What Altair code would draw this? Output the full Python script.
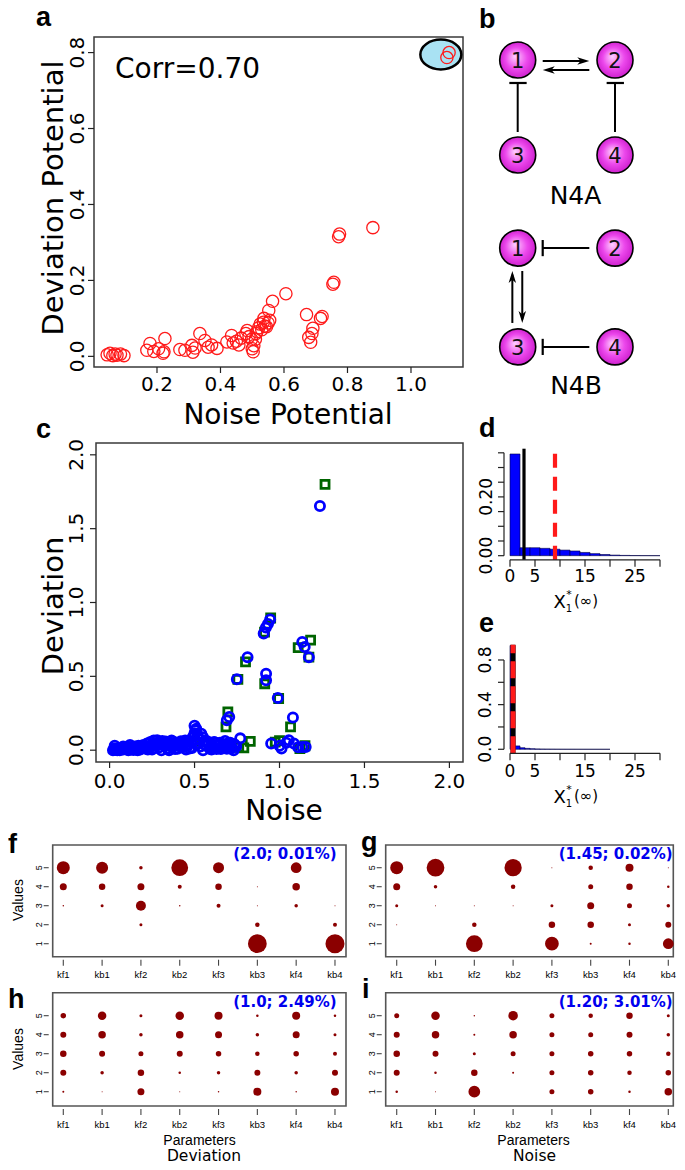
import altair as alt
import pandas as pd

# ======================= DATA =======================
# (a) Noise potential vs deviation potential
a_noise = [0.043, 0.052, 0.061, 0.068, 0.074, 0.085, 0.096,
           0.168, 0.178, 0.19, 0.205, 0.219, 0.222, 0.225,
           0.272, 0.288, 0.31, 0.313, 0.32, 0.335, 0.351, 0.361, 0.372, 0.389,
           0.42, 0.435, 0.44, 0.45, 0.458, 0.465, 0.48, 0.484, 0.49, 0.498,
           0.5, 0.503, 0.505, 0.51, 0.512, 0.515, 0.52, 0.525, 0.53, 0.535,
           0.54, 0.545, 0.55, 0.555, 0.537, 0.552, 0.564, 0.606,
           0.671, 0.678, 0.688, 0.691, 0.684, 0.715, 0.72, 0.754, 0.757,
           0.772, 0.775, 0.88, 1.12, 1.113]
a_dev = [0.004, 0.008, 0.002, 0.006, 0.003, 0.006, 0.002,
         0.016, 0.034, 0.013, 0.02, 0.008, 0.012, 0.047,
         0.018, 0.016, 0.029, 0.011, 0.022, 0.06, 0.042, 0.024, 0.03, 0.021,
         0.038, 0.055, 0.035, 0.04, 0.03, 0.048, 0.06, 0.068, 0.052, 0.045,
         0.02, 0.012, 0.028, 0.045, 0.06, 0.065, 0.075, 0.085, 0.07, 0.09,
         0.08, 0.078, 0.088, 0.095, 0.1, 0.121, 0.145, 0.165,
         0.11, 0.05, 0.06, 0.074, 0.037, 0.1, 0.105, 0.19, 0.195,
         0.315, 0.322, 0.339, 0.80, 0.787]
a_ring_x = [1.094]
a_ring_y = [0.795]
a_corr_text = "Corr=0.70"

# (b) network motifs N4A / N4B (grid layout: column u, row v)
b_node_label = ["1", "2", "3", "4", "1", "2", "3", "4"]
b_node_u = [0, 1, 0, 1, 0, 1, 0, 1]
b_node_v = [0, 0, 1, 1, 1.98, 1.98, 3.02, 3.02]
b_line_u1 = [0.257, 0.30, 0.0, 1.0, 0.736, -0.055, 0.047, 0.736]
b_line_v1 = [0.0105, 0.105, 0.758, 0.758, 1.98, 2.768, 2.221, 3.02]
b_line_u2 = [0.70, 0.736, 0.0, 1.0, 0.257, -0.055, 0.047, 0.257]
b_line_v2 = [0.0105, 0.105, 0.242, 0.242, 1.98, 2.26, 2.73, 3.02]
b_bar_u1 = [-0.086, 0.914, 0.257, 0.257]
b_bar_v1 = [0.242, 0.242, 1.895, 2.935]
b_bar_u2 = [0.092, 1.092, 0.257, 0.257]
b_bar_v2 = [0.242, 0.242, 2.065, 3.105]
b_head_u = [0.674, 0.319, -0.055, 0.047]
b_head_v = [0.0105, 0.105, 2.284, 2.705]
b_head_dir = [0, 180, 270, 90]

# (c) Noise vs Deviation
c_blue_noise_high = [1.238, 0.945, 0.932, 0.92, 0.907, 1.134, 1.148, 1.173, 0.812, 0.749,
                     0.921, 0.921, 0.99, 0.69, 0.704, 1.079, 0.769, 0.951, 1.012, 1.055,
                     1.085, 1.134, 1.154, 1.0, 1.04, 1.11]
c_blue_dev_high = [1.653, 0.885, 0.855, 0.83, 0.79, 0.732, 0.698, 0.63, 0.63, 0.48,
                   0.518, 0.473, 0.354, 0.203, 0.225, 0.221, 0.08, 0.045, 0.011, 0.068,
                   0.045, 0.022, 0.022, 0.03, 0.05, 0.02]
c_blue_noise_low = [0.02, 0.03, 0.04, 0.05, 0.06, 0.07, 0.08, 0.09, 0.10, 0.11,
                    0.12, 0.13, 0.14, 0.15, 0.16, 0.17, 0.18, 0.19, 0.20, 0.21,
                    0.22, 0.23, 0.24, 0.25, 0.26, 0.27, 0.28, 0.29, 0.30, 0.31,
                    0.32, 0.33, 0.34, 0.35, 0.36, 0.37, 0.38, 0.39, 0.40, 0.41,
                    0.42, 0.43, 0.44, 0.45, 0.46, 0.47, 0.48, 0.49,
                    0.50, 0.505, 0.51, 0.50,
                    0.52, 0.53, 0.54, 0.55, 0.56, 0.57, 0.58, 0.59, 0.60, 0.61,
                    0.62, 0.63, 0.64, 0.65, 0.66, 0.67, 0.68, 0.69, 0.70, 0.71,
                    0.72, 0.73, 0.745,
                    0.03, 0.08, 0.12, 0.25, 0.35, 0.45, 0.55, 0.60]
c_blue_dev_low = [0.0, 0.012, 0.003, 0.008, 0.0, 0.014, 0.004, 0.018, 0.006, 0.0,
                  0.022, 0.01, 0.002, 0.025, 0.012, 0.03, 0.005, 0.022, 0.035, 0.012,
                  0.045, 0.02, 0.055, 0.03, 0.065, 0.04, 0.068, 0.018, 0.055, 0.062,
                  0.03, 0.058, 0.01, 0.042, 0.05, 0.02, 0.038, 0.052, 0.01, 0.045,
                  0.06, 0.02, 0.048, 0.03, 0.062, 0.012, 0.055, 0.09,
                  0.165, 0.135, 0.145, 0.115,
                  0.10, 0.072, 0.112, 0.088, 0.062, 0.03, 0.05, 0.01, 0.042, 0.02,
                  0.052, 0.008, 0.03, 0.05, 0.018, 0.04, 0.062, 0.01, 0.032, 0.05,
                  0.02, 0.0, 0.025,
                  0.03, 0.025, 0.035, 0.005, 0.0, 0.005, 0.0, 0.005]
c_blue_noise_band = [0.025, 0.045, 0.065, 0.085, 0.105, 0.125, 0.145, 0.165, 0.185, 0.205,
                     0.225, 0.245, 0.265, 0.285, 0.305, 0.325, 0.345, 0.365, 0.385, 0.405,
                     0.425, 0.445, 0.465, 0.485, 0.515, 0.535, 0.555, 0.575, 0.595, 0.615,
                     0.635, 0.655, 0.675, 0.695, 0.715, 0.735]
c_blue_dev_band = [0.006, 0.0, 0.01, 0.012, 0.02, 0.005, 0.015, 0.0, 0.03, 0.02,
                   0.005, 0.035, 0.015, 0.045, 0.0, 0.04, 0.03, 0.065, 0.008, 0.03,
                   0.02, 0.065, 0.038, 0.015, 0.045, 0.025, 0.04, 0.06, 0.025, 0.055,
                   0.035, 0.008, 0.022, 0.045, 0.012, 0.04]
c_green_noise = [1.268, 0.948, 0.912, 1.183, 1.11, 1.173, 0.80, 0.755, 0.913, 0.995,
                 0.696, 0.685, 1.065, 0.828, 0.79, 0.975, 1.15, 1.12, 0.70, 0.76,
                 1.0, 0.5, 0.3, 0.6]
c_green_dev = [1.80, 0.895, 0.80, 0.745, 0.695, 0.63, 0.598, 0.48, 0.45, 0.35,
               0.26, 0.158, 0.158, 0.06, 0.015, 0.055, 0.03, 0.01, 0.03, 0.02,
               0.065, 0.06, 0.05, 0.03]

# (d) histogram of X1*(inf), N4A
d_bin_lo = [0, 2, 4, 6, 8, 10, 12, 14, 16, 18, 20, 22, 24, 26, 28]
d_bin_hi = [2, 4, 6, 8, 10, 12, 14, 16, 18, 20, 22, 24, 26, 28, 30]
d_density = [0.346, 0.027, 0.027, 0.025, 0.022, 0.019, 0.016, 0.011, 0.007,
             0.004, 0.002, 0.001, 0.0005, 0.0003, 0.0002]
d_black_line = 2.8
d_red_line = 9.0

# (e) histogram of X1*(inf), N4B
e_bin_lo = [0, 1, 2, 3, 4, 5, 6, 7, 8, 9, 10, 11, 12, 13, 14, 15, 16, 17, 18, 19]
e_bin_hi = [1, 2, 3, 4, 5, 6, 7, 8, 9, 10, 11, 12, 13, 14, 15, 16, 17, 18, 19, 20]
e_density = [0.93, 0.03, 0.014, 0.008, 0.005, 0.003, 0.002, 0.0015, 0.001, 0.0008,
             0.0005, 0.0004, 0.0003, 0.0002, 0.0001, 0.0001, 0.0, 0.0, 0.0, 0.0]
e_black_line = 0.6
e_red_line = 0.6

# (f-i) frequency (%) of parameter values 5,4,3,2,1
params = ["kf1", "kb1", "kf2", "kb2", "kf3", "kb3", "kf4", "kb4"]
levels = [5, 4, 3, 2, 1]
f_freq = {"kf1": [52, 28, 6, 0, 0], "kb1": [48, 26, 12, 0, 0], "kf2": [14, 28, 40, 12, 0],
          "kb2": [67, 16, 6, 0, 0], "kf3": [44, 26, 16, 0, 0], "kb3": [0, 4, 4, 18, 75],
          "kf4": [43, 30, 14, 0, 0], "kb4": [0, 0, 4, 16, 76]}
g_freq = {"kf1": [52, 28, 12, 4, 0], "kb1": [71, 14, 4, 0, 0], "kf2": [0, 0, 4, 18, 67],
          "kb2": [69, 18, 4, 0, 0], "kf3": [4, 0, 12, 26, 55], "kb3": [18, 20, 28, 26, 8],
          "kf4": [32, 26, 20, 12, 10], "kb4": [4, 10, 14, 24, 43]}
h_freq = {"kf1": [22, 24, 26, 24, 8], "kb1": [34, 30, 24, 14, 4], "kf2": [12, 14, 20, 26, 28],
          "kb2": [34, 30, 24, 10, 4], "kf3": [32, 28, 22, 14, 6], "kb3": [10, 14, 18, 24, 32],
          "kf4": [32, 28, 22, 14, 6], "kb4": [10, 12, 16, 24, 32]}
i_freq = {"kf1": [20, 24, 26, 24, 10], "kb1": [34, 30, 24, 10, 4], "kf2": [6, 8, 12, 26, 47],
          "kb2": [38, 30, 20, 8, 0], "kf3": [20, 20, 20, 20, 20], "kb3": [18, 20, 22, 22, 22],
          "kf4": [26, 24, 22, 18, 10], "kb4": [12, 14, 18, 22, 30]}
f_note = "(2.0; 0.01%)"
g_note = "(1.45; 0.02%)"
h_note = "(1.0; 2.49%)"
i_note = "(1.20; 3.01%)"

# ======================= LAYOUT / HELPERS =======================
W, H = 669, 1154
OX, OY = 8, 8
FONT = "DejaVu Sans"
ARIAL = "Liberation Sans"


def xscale(L, R, v0, v1):
    k = (R - L) / (v1 - v0)
    d0 = v0 - (L - OX) / k
    return alt.Scale(domain=[d0, d0 + W / k], nice=False, zero=False)


def yscale(B, T, v0, v1):
    k = (B - T) / (v1 - v0)
    e0 = v0 - (OY + H - B) / k
    return alt.Scale(domain=[e0, e0 + H / k], nice=False, zero=False)


class Panel:
    def __init__(self, L, R, T, B, x0, x1, y0, y1):
        self.x0, self.x1, self.y0, self.y1 = x0, x1, y0, y1
        self.sx = xscale(L, R, x0, x1)
        self.sy = yscale(B, T, y0, y1)
        self.layers = []

    def X(self, f):
        return alt.X(f"{f}:Q", scale=self.sx, axis=None)

    def Y(self, f):
        return alt.Y(f"{f}:Q", scale=self.sy, axis=None)

    def add(self, ch):
        self.layers.append(ch)

    def box(self, color="#3a3a3a", width=1.5):
        df = pd.DataFrame({"a": [self.x0], "b": [self.x1], "c": [self.y0], "d": [self.y1]})
        self.add(alt.Chart(df).mark_rect(fillOpacity=0, stroke=color, strokeWidth=width).encode(
            x=self.X("a"), x2="b", y=self.Y("c"), y2="d"))

    def hline(self, a, b, y, color="#222", width=1.2):
        df = pd.DataFrame({"a": [a], "b": [b], "e": [y]})
        self.add(alt.Chart(df).mark_rule(color=color, strokeWidth=width).encode(
            x=self.X("a"), x2="b", y=self.Y("e")))

    def vline(self, x, a, b, color="#222", width=1.2, dash=None):
        df = pd.DataFrame({"v": [x], "a": [a], "b": [b]})
        kw = dict(color=color, strokeWidth=width)
        if dash:
            kw["strokeDash"] = dash
        self.add(alt.Chart(df).mark_rule(**kw).encode(
            x=self.X("v"), y=self.Y("a"), y2="b"))

    def xticks(self, vals, edge, gap, length, color="#222", width=1.2):
        df = pd.DataFrame({"v": vals, "e": [edge] * len(vals)})
        self.add(alt.Chart(df).mark_rule(color=color, strokeWidth=width, yOffset=gap,
                                         y2Offset=gap + length).encode(
            x=self.X("v"), y=self.Y("e"), y2="e"))

    def yticks(self, vals, edge, gap, length, color="#222", width=1.2):
        df = pd.DataFrame({"v": vals, "e": [edge] * len(vals)})
        self.add(alt.Chart(df).mark_rule(color=color, strokeWidth=width, xOffset=-gap,
                                         x2Offset=-(gap + length)).encode(
            x=self.X("e"), x2="e", y=self.Y("v")))

    def xlabels(self, vals, labels, edge, off, size, font=FONT):
        df = pd.DataFrame({"v": vals, "t": labels, "e": [edge] * len(vals)})
        self.add(alt.Chart(df).mark_text(yOffset=off, fontSize=size, font=font, align="center",
                                         baseline="middle", color="black").encode(
            x=self.X("v"), y=self.Y("e"), text="t:N"))

    def ylabels(self, vals, labels, edge, off, size, font=FONT):
        df = pd.DataFrame({"v": vals, "t": labels, "e": [edge] * len(vals)})
        self.add(alt.Chart(df).mark_text(xOffset=-off, angle=270, fontSize=size, font=font,
                                         align="center", baseline="middle", color="black").encode(
            x=self.X("e"), y=self.Y("v"), text="t:N"))

    def chart(self):
        return alt.layer(*self.layers)


# page coordinate layer for annotations
page = Panel(OX, OX + W, OY, OY + H, OX, OX + W, OY + H, OY)


def note(x, y, text, size, font=FONT, weight="normal", align="left",
         baseline="alphabetic", angle=0, color="black"):
    df = pd.DataFrame({"x": [x], "y": [y], "t": [text]})
    kw = dict(fontSize=size, font=font, fontWeight=weight, align=align,
              baseline=baseline, color=color)
    if angle:
        kw["angle"] = angle
    page.add(alt.Chart(df).mark_text(**kw).encode(x=page.X("x"), y=page.Y("y"), text="t:N"))


# ======================= PANEL a =======================
pa = Panel(94, 463, 37, 367, 0.0016, 1.1638, -0.028, 0.841)
pa.box()
pa.xticks([0.2, 0.4, 0.6, 0.8, 1.0], pa.y0, 0, 6)
pa.yticks([0.0, 0.2, 0.4, 0.6, 0.8], pa.x0, 0, 6)
pa.xlabels([0.2, 0.4, 0.6, 0.8, 1.0], ["0.2", "0.4", "0.6", "0.8", "1.0"], pa.y0, 18, 20)
pa.ylabels([0.0, 0.2, 0.4, 0.6, 0.8], ["0.0", "0.2", "0.4", "0.6", "0.8"], pa.x0, 16, 20)
ELLIPSE = ("M1,0C1,0.403,0.552,0.73,0,0.73C-0.552,0.73,-1,0.403,-1,0"
           "C-1,-0.403,-0.552,-0.73,0,-0.73C0.552,-0.73,1,-0.403,1,0Z")
pa.add(alt.Chart(pd.DataFrame({"x": a_ring_x, "y": a_ring_y})).mark_point(
    shape=ELLIPSE, filled=True, fill="#a9e2f3", stroke="black", strokeWidth=2.5,
    size=1681, opacity=1).encode(x=pa.X("x"), y=pa.Y("y")))
pa.add(alt.Chart(pd.DataFrame({"x": a_noise, "y": a_dev})).mark_point(
    shape="circle", filled=False, color="#ff1a1a", strokeWidth=1.3, size=150,
    opacity=1).encode(x=pa.X("x"), y=pa.Y("y")))

# ======================= PANEL b =======================
pb = Panel(517.7, 615.0, 60, 155, 0, 1, 1, 0)
pb.add(alt.Chart(pd.DataFrame({"u1": b_line_u1, "v1": b_line_v1, "u2": b_line_u2,
                               "v2": b_line_v2})).mark_rule(color="black", strokeWidth=2).encode(
    x=pb.X("u1"), y=pb.Y("v1"), x2="u2", y2="v2"))
pb.add(alt.Chart(pd.DataFrame({"u1": b_bar_u1, "v1": b_bar_v1, "u2": b_bar_u2,
                               "v2": b_bar_v2})).mark_rule(color="black", strokeWidth=2.2).encode(
    x=pb.X("u1"), y=pb.Y("v1"), x2="u2", y2="v2"))
ARROW = "M1,0L-1,-0.62L-0.45,0L-1,0.62Z"
pb.add(alt.Chart(pd.DataFrame({"u": b_head_u, "v": b_head_v, "a": b_head_dir})).mark_point(
    shape=ARROW, filled=True, color="black", size=144, opacity=1).encode(
    x=pb.X("u"), y=pb.Y("v"), angle=alt.Angle("a:Q", scale=None)))
node_fill = alt.RadialGradient(
    gradient="radial",
    stops=[alt.GradientStop(color="#ffd0ff", offset=0),
           alt.GradientStop(color="#ec48ec", offset=0.55),
           alt.GradientStop(color="#c818c8", offset=1)],
    x1=0.42, y1=0.4, r1=0.0, x2=0.5, y2=0.5, r2=0.55)
nodes = pd.DataFrame({"u": b_node_u, "v": b_node_v, "t": b_node_label})
pb.add(alt.Chart(nodes).mark_point(shape="circle", filled=True, fill=node_fill, stroke="black",
                                   strokeWidth=1.6, size=1296, opacity=1).encode(
    x=pb.X("u"), y=pb.Y("v")))
pb.add(alt.Chart(nodes).mark_text(fontSize=21, font=FONT, color="#111", align="center",
                                  baseline="alphabetic", yOffset=7.6).encode(
    x=pb.X("u"), y=pb.Y("v"), text="t:N"))

# ======================= PANEL c =======================
pc = Panel(96, 463, 443, 762, -0.08, 2.08, -0.08, 2.08)
pc.box()
cticks = [0.0, 0.5, 1.0, 1.5, 2.0]
clabs = ["0.0", "0.5", "1.0", "1.5", "2.0"]
pc.xticks(cticks, pc.y0, 0, 6)
pc.yticks(cticks, pc.x0, 0, 6)
pc.xlabels(cticks, clabs, pc.y0, 20, 20)
pc.ylabels(cticks, clabs, pc.x0, 19, 20)
pc.add(alt.Chart(pd.DataFrame({"x": c_green_noise, "y": c_green_dev})).mark_point(
    shape="square", filled=False, color="#006400", strokeWidth=2.8, size=64, opacity=1).encode(
    x=pc.X("x"), y=pc.Y("y")))
pc.add(alt.Chart(pd.DataFrame({"x": c_blue_noise_band + c_blue_noise_low + c_blue_noise_high,
                               "y": c_blue_dev_band + c_blue_dev_low + c_blue_dev_high})).mark_point(
    shape="circle", filled=False, color="#0000ff", strokeWidth=2.8, size=85, opacity=1).encode(
    x=pc.X("x"), y=pc.Y("y")))

# ======================= PANEL d / e =======================
def hist_panel(T, B, y0, y1, lo, hi, dens, ytick_vals, ylab_vals, ylab_text,
               yaxis_top, black_x, red_x, black_w, red_w, dash, lab_off_x, lab_off_y):
    p = Panel(504, 666, T, B, -1.2, 31.2, y0, y1)
    df = pd.DataFrame({"lo": lo, "hi": hi, "d": dens, "b": [0.0] * len(lo)})
    p.add(alt.Chart(df).mark_rect(fill="#0000ff", stroke="#000040", strokeWidth=0.6).encode(
        x=p.X("lo"), x2="hi", y=p.Y("b"), y2="d"))
    p.vline(black_x, y0, y1, color="black", width=black_w)
    p.vline(red_x, y0, y1, color="#ff1a1a", width=red_w, dash=dash)
    p.hline(0, 30, y0)
    p.vline(-1.2, 0, yaxis_top)
    p.xticks([0, 5, 10, 15, 20, 25, 30], y0, 0, 7)
    p.yticks(ytick_vals, -1.2, 0, 6)
    p.xlabels([0, 5, 15, 25], ["0", "5", "15", "25"], y0, lab_off_y, 17)
    p.ylabels(ylab_vals, ylab_text, -1.2, lab_off_x, 17)
    return p


pd_ = hist_panel(448.7, 559.8, -0.014, 0.364, d_bin_lo, d_bin_hi, d_density,
                 [0, 0.05, 0.10, 0.15, 0.20, 0.25, 0.30, 0.35], [0.0, 0.2], ["0.00", "0.20"],
                 0.35, d_black_line, d_red_line, 3.2, 4.2, [14, 9], 17.5, 17)
pe_ = hist_panel(644.8, 753.3, -0.036, 0.936, e_bin_lo, e_bin_hi, e_density,
                 [0, 0.2, 0.4, 0.6, 0.8], [0.0, 0.4, 0.8], ["0.0", "0.4", "0.8"],
                 0.8, e_black_line, e_red_line, 5, 5, [17, 8], 18.5, 18.4)

# ======================= PANELS f-i =======================
size_scale = alt.Scale(type="pow", exponent=2, domain=[0, 100], range=[0, 625])


def dot_panel(L, R, T, B, x0, x1, y0, y1, freq):
    p = Panel(L, R, T, B, x0, x1, y0, y1)
    rows = []
    for i, prm in enumerate(params):
        for lv, fr in zip(levels, freq[prm]):
            if fr > 0:
                rows.append({"i": i + 1, "v": lv, "f": fr})
    p.box(color="#555555", width=1.6)
    p.add(alt.Chart(pd.DataFrame(rows)).mark_circle(color="#8b0000", opacity=1).encode(
        x=p.X("i"), y=p.Y("v"), size=alt.Size("f:Q", scale=size_scale, legend=None)))
    idx = list(range(1, 9))
    p.xticks(idx, y0, 3, 6, color="#444", width=1.1)
    p.yticks(levels, x0, 4, 5, color="#444", width=1.1)
    p.xlabels(idx, params, y0, 18.5, 9.5, font=ARIAL)
    p.ylabels(levels, [str(v) for v in levels], x0, 13.5, 9, font=ARIAL)
    return p


pf = dot_panel(52.7, 346, 845, 956.7, 0.727, 8.284, 0.316, 6.195, f_freq)
pg = dot_panel(385.7, 673.3, 845, 956.7, 0.716, 8.129, 0.316, 6.195, g_freq)
ph = dot_panel(52.7, 346, 992.7, 1106, 0.727, 8.284, 0.247, 6.21, h_freq)
pi = dot_panel(385.7, 673.3, 992.7, 1106, 0.716, 8.129, 0.247, 6.21, i_freq)

# ======================= ANNOTATIONS =======================
LET = 27
note(36, 26, "a", LET, font=ARIAL, weight="bold")
note(479, 28, "b", LET, font=ARIAL, weight="bold")
note(36, 438, "c", LET, font=ARIAL, weight="bold")
note(479, 437, "d", LET, font=ARIAL, weight="bold")
note(479, 632, "e", LET, font=ARIAL, weight="bold")
note(8, 853, "f", LET, font=ARIAL, weight="bold")
note(361, 851, "g", LET, font=ARIAL, weight="bold")
note(8, 1008, "h", LET, font=ARIAL, weight="bold")
note(362, 998, "i", LET, font=ARIAL, weight="bold")

note(115, 78, a_corr_text, 28)
note(288, 424, "Noise Potential", 28, align="center")
note(63, 198, "Deviation Potential", 29, align="center", angle=270)
note(284, 820, "Noise", 28, align="center")
note(63, 606, "Deviation", 29, align="center", angle=270)

note(575.5, 204, "N4A", 25, align="center")
note(576, 394, "N4B", 25, align="center")

for base in (0.0, 195.0):
    note(559.7, 608 + base, "X", 18, align="center")
    note(569, 598 + base, "*", 11, align="center")
    note(569, 612 + base, "1", 10, align="center")
    note(586, 606 + base, "(∞)", 15, align="center")

note(336.7, 859.3, f_note, 15, weight="bold", align="right", color="#0000ee")
note(672.7, 859.3, g_note, 15, weight="bold", align="right", color="#0000ee")
note(336.7, 1006.5, h_note, 15, weight="bold", align="right", color="#0000ee")
note(672.7, 1006.5, i_note, 15, weight="bold", align="right", color="#0000ee")

note(22.5, 900, "Values", 14, font=ARIAL, align="center", angle=270)
note(22.5, 1049, "Values", 14, font=ARIAL, align="center", angle=270)
note(199.5, 1145, "Parameters", 14, font=ARIAL, align="center")
note(533.5, 1145, "Parameters", 14, font=ARIAL, align="center")
note(204, 1161, "Deviation", 15.5, align="center")
note(534.5, 1161, "Noise", 15.5, align="center")

# ======================= ASSEMBLE =======================
panels = [pa, pb, pc, pd_, pe_, pf, pg, ph, pi, page]
chart = alt.layer(*[p.chart() for p in panels]).resolve_scale(
    x="independent", y="independent", size="independent"
).properties(
    width=W, height=H, padding=0, autosize=alt.AutoSizeParams(type="none")
).configure_view(strokeWidth=0)

chart.save("out.html", embed_options={"renderer": "svg", "actions": False})
